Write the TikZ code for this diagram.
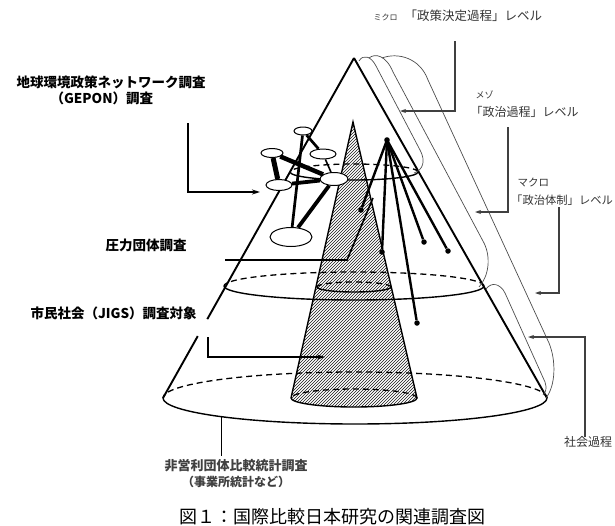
\documentclass[tikz,border=0pt]{standalone}
\usepackage{fontspec}
\newfontfamily\jpfont{Noto Sans CJK JP}
\usetikzlibrary{arrows.meta,patterns,shapes.geometric,calc}

\begin{document}
\begin{tikzpicture}[x=1pt,y=-1pt,
    cone/.style={line width=1.9pt},
    rim/.style={line width=1.4pt},
    backrim/.style={line width=1.3pt,dash pattern=on 6pt off 4pt},
    bracketline/.style={line width=0.7pt,black!70},
    pointer/.style={line width=1.1pt,black!75,-{Stealth[length=6pt,width=4pt]}},
    leader/.style={line width=1.6pt},
    org/.style={ellipse,draw,fill=white,line width=1pt,inner sep=0pt},
    tipdot/.style={circle,fill,inner sep=0pt,minimum size=5.5pt},
    survey/.style={font=\jpfont\bfseries\fontsize{13.5}{16}\selectfont},
    levellabel/.style={black!80,font=\jpfont\fontsize{12}{14}\selectfont}]
    \useasboundingbox (0,0) rectangle (615,525);
    \coordinate (apex) at (354,58);
    \coordinate (bl) at (163,398);
    \coordinate (br) at (547,398);
    \coordinate (bc) at (355,398);
    \coordinate (iapex) at (353,122);
    \coordinate (ibl) at (291,398);
    \coordinate (ibr) at (417,398);

    \fill [pattern=north east lines, pattern color=black!90] (ibl) -- (iapex) -- (ibr)
        arc [start angle=0, end angle=-180, x radius=63pt, y radius=9pt] -- cycle;
    \draw [rim] (ibl) -- (iapex) -- (ibr)
        arc [start angle=0, end angle=-180, x radius=63pt, y radius=9pt];
    \draw [backrim] (ibr) arc [start angle=0, end angle=180, x radius=63pt, y radius=9pt];
    \draw [backrim] (391,287) arc [start angle=0, end angle=180, x radius=37pt, y radius=5pt];
    \draw [rim] (317,287) arc [start angle=180, end angle=360, x radius=37pt, y radius=5pt];

    \draw [cone] (apex) -- ($(apex)!0.768!(bl)$);
    \draw [cone] ($(apex)!0.818!(bl)$) -- (bl);
    \draw [cone] (apex) -- (br);

    \draw [backrim] (418,172) arc [start angle=0, end angle=180, x radius=64pt, y radius=8pt];
    \draw [rim] (290,172) arc [start angle=180, end angle=360, x radius=64pt, y radius=8pt];
    \draw [backrim] (484,286) arc [start angle=0, end angle=180, x radius=130pt, y radius=14pt];
    \draw [rim] (224,286) arc [start angle=180, end angle=360, x radius=130pt, y radius=14pt];
    \draw [backrim] (br) arc [start angle=0, end angle=180, x radius=192pt, y radius=26pt];
    \draw [rim] (bl) arc [start angle=180, end angle=360, x radius=192pt, y radius=26pt];

    \draw [bracketline] (359,61) .. controls (363,54) and (371,56) .. (376,66) -- (420,150)
        .. controls (426,161) and (423,170) .. (414,173);
    \draw [bracketline] (369,58) .. controls (375,53) and (386,55) .. (393,72) -- (484,243)
        .. controls (491,257) and (489,276) .. (479,287);
    \draw [bracketline] (382,58) .. controls (398,52) and (420,58) .. (428,80) -- (549,343)
        .. controls (556,360) and (556,385) .. (546,398);
    \draw [bracketline] (486,289) .. controls (491,282) and (500,283) .. (505,293) -- (545,382)
        .. controls (547,388) and (546,392) .. (543,395);

    \coordinate (hub) at (387,140);
    \fill (hub) circle (2.8pt);
    \foreach \n/\x/\y in {t1/361/210, t2/382/252, t3/424/242, t4/448/251, t5/417/323} {
        \node [tipdot] (\n) at (\x,\y) {};
        \draw [line width=2.4pt] (hub) -- (\n);
    }

    \node [org, minimum width=18pt, minimum height=8pt] (n1) at (303,131) {};
    \node [org, minimum width=22pt, minimum height=9pt] (n2) at (272,153) {};
    \node [org, minimum width=26pt, minimum height=10pt] (n3) at (323,154) {};
    \node [org, minimum width=26pt, minimum height=11pt] (n4) at (279,185) {};
    \node [org, minimum width=28pt, minimum height=13pt] (n5) at (334,179) {};
    \node [org, minimum width=42pt, minimum height=19pt] (n6) at (291,237) {};
    \draw [line width=5pt] (n2) -- (n4);
    \draw [line width=4.5pt] (n2) -- (n5);
    \draw [line width=3.8pt] (n4) -- (n5);
    \draw [line width=3.8pt] (n5) -- (n6);
    \draw [line width=2.7pt] (n1) -- (n6);
    \draw [line width=2.7pt] (n1) -- (n3);
    \draw [line width=1.6pt] (n3) -- (n5);

    \node [survey, anchor=west] (gepon) at (13,82) {地球環境政策ネットワーク調査};
    \node [survey, anchor=west] (gepon2) at (47,98) {（GEPON）調査};
    \node [survey, anchor=west] (pressure) at (102,245) {圧力団体調査};
    \node [survey, anchor=west] (jigs) at (27,313) {市民社会（JIGS）調査対象};
    \node [align=center, black!75, font=\jpfont\bfseries\fontsize{13}{16}\selectfont] (nonprofit) at (236,474)
        {非営利団体比較統計調査\\{\fontsize{12}{16}\selectfont （事業所統計など）}};
    \node [font=\jpfont\fontsize{18}{20}\selectfont] (caption) at (332,517) {図１：国際比較日本研究の関連調査図};

    \coordinate (geponend) at (260,192);
    \coordinate (jigsend) at (325,357);
    \coordinate (basefront) at ($(bc)+(226:192pt and 26pt)$);
    \draw [leader, -{Stealth[length=8pt,width=5pt]}] (188,123) |- (geponend);
    \draw [leader] (225,260) -- (347,260) -- (373,198);
    \draw [leader, -{Stealth[length=8pt,width=5pt]}] (208,337) |- (jigsend);
    \draw [leader] (basefront) -- (basefront |- nonprofit.north);

    \node [levellabel, font=\jpfont\fontsize{12.5}{14}\selectfont, anchor=west] (micro) at (370,16)
        {{\fontsize{8}{10}\selectfont ミクロ}\hspace{7pt}「政策決定過程」レベル};
    \node [levellabel, font=\jpfont\fontsize{9}{10}\selectfont, anchor=west] (meso) at (472,95) {メゾ};
    \node [levellabel, anchor=west] (meso2) at (467,112) {「政治過程」レベル};
    \node [levellabel, font=\jpfont\fontsize{10.5}{12}\selectfont, anchor=west] (macro) at (514,182) {マクロ};
    \node [levellabel, font=\jpfont\fontsize{11.3}{13}\selectfont, anchor=west, inner sep=1pt] (macro2) at (510,200) {「政治体制」レベル};
    \node [levellabel, font=\jpfont\fontsize{12}{14}\selectfont, anchor=west, inner sep=1pt] (social) at (563,442) {社会過程};

    \coordinate (microend) at (400,111);
    \coordinate (mesoend) at (475,212);
    \coordinate (macroend) at (535,293);
    \coordinate (socialend) at (528,337);
    \draw [pointer] (455,41) |- (microend);
    \draw [pointer] (508,127) |- (mesoend);
    \draw [pointer] (559,207) |- (macroend);
    \draw [pointer] (585,437) |- (socialend);
\end{tikzpicture}
\end{document}
